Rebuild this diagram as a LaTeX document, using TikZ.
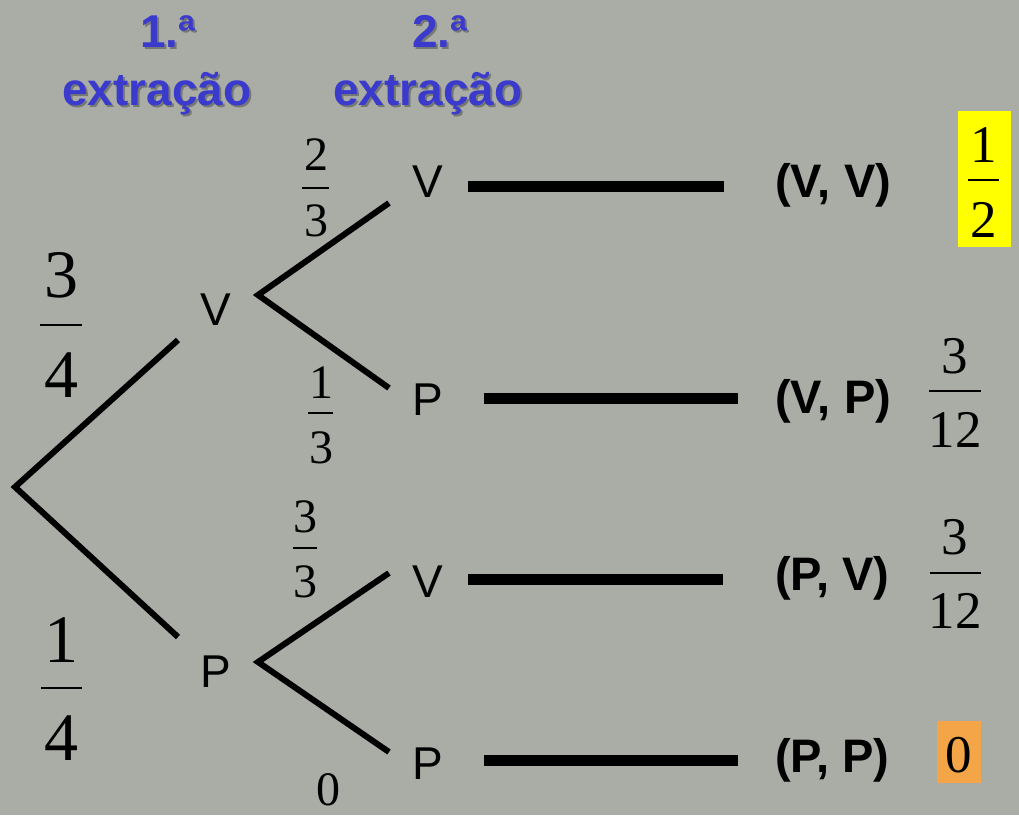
\documentclass[tikz,border=0pt]{standalone}
\usepackage{fontspec}
\setmainfont{Liberation Serif}
\setsansfont{Liberation Sans}
\newcommand\myfs[1]{\fontsize{#1}{#1}\selectfont}
\definecolor{bgc}{RGB}{170,172,166}
\definecolor{hblue}{RGB}{58,58,205}
\definecolor{fyel}{RGB}{255,255,0}
\definecolor{forg}{RGB}{244,165,71}
\tikzset{
  head/.style={font=\sffamily\bfseries\myfs{46}, text=hblue, anchor=base, inner sep=0pt},
  headsh/.style={font=\sffamily\bfseries\myfs{46}, text=black, opacity=0.3, anchor=base, inner sep=0pt},
  lbl/.style={font=\sffamily\myfs{46}, anchor=base, inner sep=0pt},
  res/.style={font=\sffamily\bfseries\myfs{47}, anchor=base west, inner sep=0pt},
  fbig/.style={font=\myfs{68}, anchor=base, inner sep=0pt},
  fmid/.style={font=\myfs{48}, anchor=base, inner sep=0pt},
  fres/.style={font=\myfs{53}, anchor=base, inner sep=0pt},
  branch/.style={line width=6pt, line join=miter},
  barline/.style={line width=11pt},
  fbar/.style={line width=2.5pt}
}
\begin{document}
\begin{tikzpicture}[x=1pt,y=-1pt]
\fill[bgc] (0,0) rectangle (1019,815);
\useasboundingbox (0,0) rectangle (1019,815);

% headings
\node[headsh] (h1s) at (170,49) {1.ª};
\node[headsh] (h1bs) at (159,107) {extração};
\node[headsh] (h2s) at (442,49) {2.ª};
\node[headsh] (h2bs) at (430,107) {extração};
\node[head] (h1) at (168,47) {1.ª};
\node[head] (h1b) at (157,105) {extração};
\node[head] (h2) at (440,47) {2.ª};
\node[head] (h2b) at (428,105) {extração};

% tree coordinates
\coordinate (root) at (15,487);
\coordinate (a1) at (178,340);
\coordinate (b1) at (178,637);
\coordinate (vV) at (258,295);
\coordinate (vVa) at (389,203);
\coordinate (vVb) at (389,388);
\coordinate (vP) at (258,662);
\coordinate (vPa) at (389,573);
\coordinate (vPb) at (389,752);

\draw[branch] (a1) -- (root) -- (b1);
\draw[branch] (vVa) -- (vV) -- (vVb);
\draw[branch] (vPa) -- (vP) -- (vPb);

% labels
\node[lbl] (V1) at (216,325) {V};
\node[lbl] (P1) at (216,687) {P};
\node[lbl] (V2) at (428,197) {V};
\node[lbl] (P2) at (428,415) {P};
\node[lbl] (V3) at (428,597) {V};
\node[lbl] (P3) at (428,779) {P};

% bars
\coordinate (r1s) at (468,186.5); \coordinate (r1e) at (724,186.5);
\coordinate (r2s) at (484,398); \coordinate (r2e) at (738,398);
\coordinate (r3s) at (468,579); \coordinate (r3e) at (723,579);
\coordinate (r4s) at (484,760); \coordinate (r4e) at (738,760);
\draw[barline] (r1s) -- (r1e);
\draw[barline] (r2s) -- (r2e);
\draw[barline] (r3s) -- (r3e);
\draw[barline] (r4s) -- (r4e);

% results
\node[res] (VV) at (775,197) {(V, V)};
\node[res] (VP) at (775,413) {(V, P)};
\node[res] (PV) at (775,590) {(P, V)};
\node[res] (PP) at (775,772) {(P, P)};

% first level fractions
\node[fbig] (f34n) at (61,297) {3};
\draw[fbar] (40,325) -- (82,325);
\node[fbig] (f34d) at (61,397) {4};
\node[fbig] (f14n) at (61,662) {1};
\draw[fbar] (41,688) -- (82,688);
\node[fbig] (f14d) at (61,760) {4};

% second level fractions
\node[fmid] (f23n) at (316,170) {2};
\draw[fbar] (302,188) -- (329,188);
\node[fmid] (f23d) at (316,236) {3};
\node[fmid] (f13n) at (321,398) {1};
\draw[fbar] (308,413) -- (333,413);
\node[fmid] (f13d) at (321,463) {3};
\node[fmid] (f33n) at (305,532) {3};
\draw[fbar] (293,548) -- (317,548);
\node[fmid] (f33d) at (305,597) {3};
\node[fmid] (f0) at (328,805) {0};

% result probabilities
\fill[fyel] (958,111) rectangle (1011,247);
\node[fres] (r12n) at (984,162) {1};
\draw[fbar] (968,180) -- (999,180);
\node[fres] (r12d) at (984,237) {2};

\node[fres] (r312n) at (955,373) {3};
\draw[fbar] (929,391) -- (981,391);
\node[fres] (r312d) at (955,447) {12};

\node[fres] (s312n) at (955,554) {3};
\draw[fbar] (930,573) -- (981,573);
\node[fres] (s312d) at (955,628) {12};

\fill[forg] (937,721) rectangle (981,783);
\node[fres] (r0) at (959,772) {0};
\end{tikzpicture}
\end{document}
